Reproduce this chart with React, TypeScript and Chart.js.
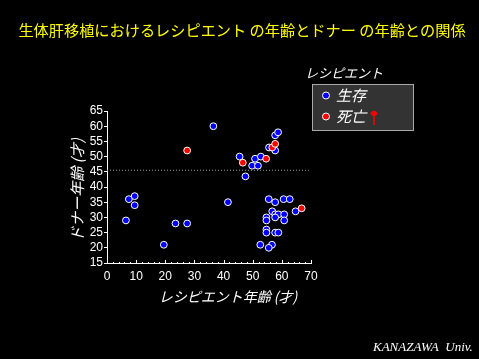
import React, { useEffect, useRef } from "react";
import { Chart, registerables } from "chart.js";

Chart.register(...registerables);

// Recipient age (x) and donor age (y)
const survivedRecipientAge = [7.5, 9.5, 9.5, 6.5, 19.5, 23.5, 27.5, 36.5, 41.5, 45.5, 47.5, 49.8, 51.8, 50.8, 52.8, 55.6, 57.7, 58.7, 57.7, 55.5, 57.7, 60.6, 62.7, 64.7, 56.7, 54.7, 54.7, 57.7, 58.8, 60.8, 60.8, 57.7, 54.7, 54.7, 57.7, 58.8, 52.6, 56.6, 55.5];
const survivedDonorAge = [36, 37, 34, 29, 21, 28, 28, 60, 35, 50, 43.5, 47, 47, 49.3, 50, 53, 57, 58, 52, 36, 35, 36, 36, 32, 32, 30, 29, 31, 31, 31, 29, 30, 26, 25, 25, 25, 21, 21, 20];
const deceasedRecipientAge = [27.5, 46.6, 54.6, 56.7, 57.7, 66.8];
const deceasedDonorAge = [52, 48, 49.3, 53, 54.2, 33];
const referenceDonorAge = 45.5;
const referenceRange = [0, 69.3];

const titleText = "生体肝移植におけるレシピエント の年齢とドナー の年齢との関係";
const xTitle = "レシピエント年齢 (才)";
const yTitle = "ドナー年齢 (才)";
const legendTitle = "レシピエント";
const legendLabels = ["生存", "死亡"];
const footerText = "KANAZAWA  Univ.";

const JP = "'Noto Sans CJK JP', sans-serif";

const decoPlugin = {
  id: "deco",
  beforeDraw(chart: any) {
    const ctx = chart.ctx;
    ctx.save();
    ctx.fillStyle = "#000";
    ctx.fillRect(0, 0, chart.width, chart.height);
    ctx.restore();
  },
  afterDraw(chart: any) {
    const ctx = chart.ctx;
    const xs = chart.scales.x;
    const ys = chart.scales.y;
    ctx.save();
    // title
    ctx.fillStyle = "#ffff00";
    ctx.font = `15.2px ${JP}`;
    ctx.textAlign = "center";
    ctx.textBaseline = "middle";
    ctx.fillText(titleText, 242, 30);

    // x minor/major ticks pointing up
    ctx.strokeStyle = "#fff";
    ctx.lineWidth = 1;
    const yb = ys.getPixelForValue(15);
    for (let v = 0; v <= 70; v += 2) {
      const px = Math.round(xs.getPixelForValue(v)) + 0.5;
      ctx.beginPath();
      ctx.moveTo(px, yb);
      ctx.lineTo(px, yb - 1);
      ctx.stroke();
    }
    for (let v = 0; v <= 70; v += 10) {
      const px = Math.round(xs.getPixelForValue(v)) + 0.5;
      ctx.beginPath();
      ctx.moveTo(px, yb);
      ctx.lineTo(px, yb - 3);
      ctx.stroke();
    }

    // axis titles
    ctx.fillStyle = "#fff";
    ctx.font = `italic 14px ${JP}`;
    ctx.textAlign = "center";
    ctx.textBaseline = "middle";
    ctx.fillText(xTitle, 228, 297);
    ctx.save();
    ctx.translate(77, 190);
    ctx.rotate(-Math.PI / 2);
    ctx.font = `italic 15px ${JP}`;
    ctx.fillText(yTitle, 0, 0);
    ctx.restore();

    // legend
    ctx.font = `italic 13px ${JP}`;
    ctx.textAlign = "left";
    ctx.fillText(legendTitle, 305, 73);
    ctx.fillStyle = "#333333";
    ctx.fillRect(312, 84, 102, 47);
    ctx.strokeStyle = "#aaaaaa";
    ctx.lineWidth = 1;
    ctx.strokeRect(312.5, 84.5, 101, 46);
    const markers = [
      { c: "#0000ff", y: 95.5 },
      { c: "#ff0000", y: 116.5 },
    ];
    markers.forEach((m, i) => {
      ctx.beginPath();
      ctx.arc(326, m.y, 3.5, 0, Math.PI * 2);
      ctx.fillStyle = m.c;
      ctx.fill();
      ctx.strokeStyle = "#fff";
      ctx.lineWidth = 1;
      ctx.stroke();
      ctx.fillStyle = "#fff";
      ctx.font = `italic 15px ${JP}`;
      ctx.fillText(legendLabels[i], 336, m.y);
    });
    // red pin
    ctx.fillStyle = "#ff0000";
    ctx.strokeStyle = "#ff0000";
    ctx.beginPath();
    ctx.arc(374, 113.5, 2.8, 0, Math.PI * 2);
    ctx.fill();
    ctx.lineWidth = 1.5;
    ctx.beginPath();
    ctx.moveTo(374, 113);
    ctx.lineTo(374, 125);
    ctx.stroke();
    ctx.beginPath();
    ctx.moveTo(370.5, 113.5);
    ctx.lineTo(377.5, 113.5);
    ctx.stroke();

    // footer
    ctx.fillStyle = "#fff";
    ctx.font = "italic 13px 'Liberation Serif', serif";
    ctx.textAlign = "left";
    ctx.textBaseline = "middle";
    ctx.fillText(footerText, 373, 348);
    ctx.restore();
  },
};

export default function App() {
  const ref = useRef<HTMLCanvasElement | null>(null);
  useEffect(() => {
    document.body.style.margin = "0";
    document.body.style.background = "#000";
    const canvas = ref.current!;
    const toPts = (xs: number[], ys: number[]) => xs.map((x, i) => ({ x, y: ys[i] }));
    const tickFont = { family: "'Liberation Sans', sans-serif", size: 12 };
    const chart = new Chart(canvas, {
      type: "scatter",
      data: {
        datasets: [
          {
            label: legendLabels[0],
            data: toPts(survivedRecipientAge, survivedDonorAge),
            backgroundColor: "#0000ff",
            borderColor: "#ffffff",
            borderWidth: 1,
            pointRadius: 3.4,
            order: 1,
          },
          {
            label: legendLabels[1],
            data: toPts(deceasedRecipientAge, deceasedDonorAge),
            backgroundColor: "#ff0000",
            borderColor: "#ffffff",
            borderWidth: 1,
            pointRadius: 3.4,
            order: 0,
          },
          {
            type: "line",
            label: "ref",
            data: referenceRange.map((x) => ({ x, y: referenceDonorAge })),
            borderColor: "#9a9a9a",
            borderWidth: 1,
            borderDash: [1, 2],
            pointRadius: 0,
            order: 2,
          } as any,
        ],
      },
      options: {
        animation: false,
        responsive: false,
        devicePixelRatio: 1,
        layout: { padding: { left: 67, right: 168, top: 111, bottom: 66 } },
        plugins: {
          legend: { display: false },
          tooltip: { enabled: false },
          title: { display: false },
        },
        scales: {
          x: {
            type: "linear",
            min: 0,
            max: 70,
            afterFit: (s: any) => {
              s.height = 30;
            },
            ticks: { stepSize: 10, autoSkip: false, color: "#fff", font: tickFont, padding: 6, maxRotation: 0 },
            grid: { display: true, drawOnChartArea: false, drawTicks: false, color: "#fff" },
            border: { display: true, color: "#fff", width: 1 },
          },
          y: {
            type: "linear",
            min: 15,
            max: 65,
            afterFit: (s: any) => {
              s.width = 40;
            },
            ticks: { stepSize: 5, autoSkip: false, color: "#fff", font: tickFont, padding: 1 },
            grid: { display: true, drawOnChartArea: false, drawTicks: true, tickLength: 3, color: "#fff" },
            border: { display: true, color: "#fff", width: 1 },
          },
        },
      },
      plugins: [decoPlugin],
    } as any);
    return () => chart.destroy();
  }, []);
  return (
    <canvas
      ref={ref}
      width={479}
      height={359}
      style={{ display: "block", width: 479, height: 359, background: "#000" }}
    />
  );
}
